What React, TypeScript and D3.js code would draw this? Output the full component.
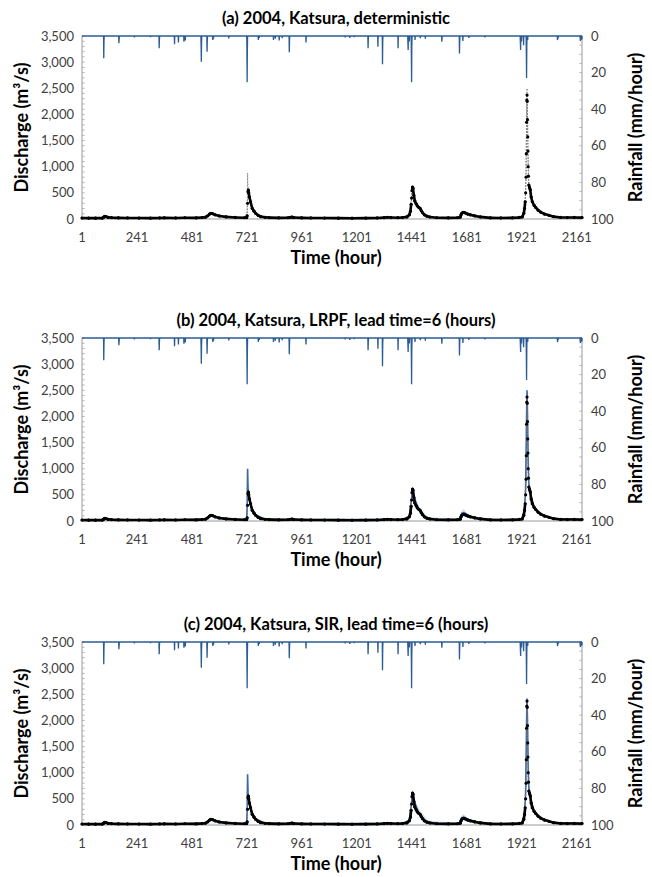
import React from 'react';
import * as d3 from 'd3';

// panel titles
const titles = [
  '(a) 2004, Katsura, deterministic',
  '(b) 2004, Katsura, LRPF, lead time=6 (hours)',
  '(c) 2004, Katsura, SIR, lead time=6 (hours)',
];

const xTicks = [1, 241, 481, 721, 961, 1201, 1441, 1681, 1921, 2161];
const qTicks = [0, 500, 1000, 1500, 2000, 2500, 3000, 3500];
const rTicks = [0, 20, 40, 60, 80, 100];

// hourly rainfall (mm/hour), hours not listed had no rain
const rain: [number, number][] = [
  [96, 12.2], [97, 3], [162, 4], [163, 2], [230, 0.8], [300, 0.6], [338, 6.7], [339, 2],
  [405, 4.5], [422, 3.5], [446, 3.1], [452, 2.5], [521, 5], [522, 14], [523, 4],
  [547, 8.6], [548, 3], [572, 2.2], [575, 1.5], [642, 1.3], [721, 6], [722, 25.3], [723, 8],
  [771, 2.2], [775, 1], [837, 2.2], [845, 1.5], [862, 2.5], [875, 1.2], [906, 8.9], [907, 3],
  [979, 3.5], [1150, 0.8], [1170, 1], [1190, 0.6], [1250, 6.7], [1251, 2], [1293, 5.8],
  [1313, 15.5], [1314, 3], [1381, 6.7], [1424, 4], [1425, 7.6], [1430, 3], [1439, 10],
  [1440, 25.3], [1441, 6], [1455, 2.2], [1478, 1.2], [1500, 1.5], [1572, 3.1], [1573, 1],
  [1649, 9.5], [1650, 3], [1664, 2.7], [1690, 1], [1760, 0.8], [1915, 4], [1916, 7.6],
  [1920, 3], [1929, 5], [1941, 10], [1942, 23], [1943, 6], [1947, 2.2], [2077, 2.2],
  [2078, 1.5], [2080, 1], [2176, 1.5], [2177, 2.7], [2183, 2],
];

// observed discharge (m3/s)
const observed: [number, number][] = [
  [1, 18], [30, 17], [60, 16], [90, 17], [95, 30], [100, 52], [106, 45], [115, 32], [130, 25],
  [160, 22], [200, 20], [250, 18], [300, 17], [340, 20], [360, 22], [410, 20], [450, 24],
  [500, 22], [525, 28], [540, 35], [550, 60], [558, 95], [564, 110], [572, 100], [582, 80],
  [600, 58], [630, 40], [670, 30], [710, 24], [720, 28], [722, 60], [724, 300], [726, 520],
  [727, 555], [729, 500], [732, 420], [737, 330], [744, 205], [752, 150], [759, 110],
  [770, 70], [781, 45], [800, 32], [818, 26], [860, 22], [900, 24], [910, 32], [918, 36],
  [926, 28], [960, 22], [1000, 20], [1060, 18], [1120, 16], [1180, 15], [1240, 17],
  [1290, 20], [1320, 26], [1335, 32], [1350, 28], [1380, 25], [1400, 28], [1420, 40],
  [1430, 80], [1435, 150], [1438, 280], [1440, 400], [1442, 540], [1444, 610], [1446, 590],
  [1450, 450], [1454, 345], [1460, 290], [1465, 250], [1471, 225], [1477, 205], [1482, 160],
  [1488, 120], [1496, 80], [1506, 55], [1520, 38], [1550, 24], [1600, 22], [1640, 24],
  [1652, 35], [1656, 80], [1660, 115], [1667, 128], [1675, 115], [1685, 95], [1696, 80],
  [1715, 60], [1740, 40], [1784, 22], [1830, 20], [1880, 22], [1910, 30], [1923, 40],
  [1930, 110], [1933, 200], [1936, 330], [1938, 500], [1940, 800], [1941, 1250],
  [1942, 1850], [1943, 2275], [1944, 2370], [1945, 2250], [1946, 1900], [1947, 1570],
  [1948, 1300], [1949, 1000], [1950, 820], [1952, 650], [1955, 600], [1958, 560],
  [1962, 420], [1967, 330], [1975, 260], [1982, 220], [1992, 170], [2004, 130], [2020, 95],
  [2040, 70], [2060, 45], [2091, 30], [2120, 28], [2150, 30], [2184, 27],
];

// simulated discharge: deterministic (a), LRPF mean (b), SIR mean (c)
const simA: [number, number][] = [
  [1, 18], [95, 25], [100, 50], [110, 40], [130, 25], [200, 20], [400, 20], [540, 35],
  [564, 105], [600, 55], [700, 25], [720, 30], [722, 200], [724, 880], [726, 560], [730, 450],
  [740, 250], [760, 110], [800, 35], [900, 25], [1400, 28], [1430, 80], [1440, 420],
  [1444, 620], [1450, 460], [1470, 230], [1500, 70], [1550, 25], [1650, 30], [1660, 115],
  [1668, 130], [1700, 75], [1780, 25], [1920, 30], [1933, 200], [1938, 600], [1942, 1900],
  [1944, 2500], [1946, 2000], [1949, 1100], [1952, 680], [1960, 500], [1975, 260],
  [2000, 140], [2060, 45], [2184, 27],
];
const simB: [number, number][] = [
  [1, 18], [95, 28], [100, 55], [110, 40], [130, 25], [200, 20], [400, 20], [540, 35],
  [564, 115], [600, 55], [700, 25], [720, 30], [722, 250], [724, 1000], [726, 620], [730, 470],
  [740, 260], [760, 115], [800, 35], [900, 25], [1400, 28], [1430, 85], [1440, 430],
  [1444, 625], [1450, 470], [1470, 235], [1500, 70], [1550, 25], [1650, 32], [1660, 150],
  [1668, 160], [1700, 80], [1780, 25], [1920, 30], [1933, 210], [1938, 650], [1942, 2000],
  [1944, 2500], [1946, 2050], [1949, 1150], [1952, 700], [1960, 510], [1975, 265],
  [2000, 140], [2060, 45], [2184, 27],
];
const simC: [number, number][] = [
  [1, 18], [95, 28], [100, 60], [110, 40], [130, 25], [200, 20], [400, 20], [540, 35],
  [564, 120], [600, 55], [700, 25], [720, 30], [722, 250], [724, 970], [726, 610], [730, 470],
  [740, 260], [760, 115], [800, 35], [900, 25], [1400, 28], [1430, 85], [1440, 430],
  [1444, 630], [1450, 480], [1470, 240], [1500, 75], [1550, 25], [1650, 32], [1660, 140],
  [1668, 150], [1700, 80], [1780, 25], [1920, 30], [1933, 210], [1938, 640], [1942, 1950],
  [1944, 2420], [1946, 2000], [1949, 1120], [1952, 690], [1960, 500], [1975, 265],
  [2000, 140], [2060, 45], [2184, 27],
];

// ensemble spread [hour, low, high] for (b) and (c)
const bandB: [number, number, number][] = [
  [1, 15, 22], [700, 18, 30], [720, 22, 45], [722, 60, 500], [724, 700, 1100], [726, 450, 700],
  [730, 380, 520], [740, 200, 300], [760, 95, 140], [800, 30, 45], [1420, 35, 55],
  [1435, 120, 200], [1444, 560, 660], [1455, 320, 400], [1480, 180, 240], [1510, 50, 80],
  [1640, 22, 35], [1658, 90, 180], [1667, 120, 230], [1685, 90, 130], [1720, 55, 70],
  [1800, 20, 30], [1920, 25, 40], [1935, 250, 400], [1944, 2300, 2550], [1948, 1100, 1500],
  [1955, 550, 700], [1975, 240, 290], [2010, 100, 130], [2060, 40, 55], [2184, 24, 30],
];
const bandC: [number, number, number][] = [
  [1, 15, 22], [700, 18, 30], [720, 22, 45], [722, 60, 520], [724, 650, 1100], [726, 450, 700],
  [730, 380, 530], [740, 200, 310], [760, 95, 145], [800, 30, 45], [1420, 35, 60],
  [1435, 120, 220], [1444, 560, 680], [1455, 320, 430], [1480, 180, 260], [1510, 50, 90],
  [1640, 22, 35], [1658, 90, 170], [1667, 120, 210], [1685, 90, 130], [1720, 55, 75],
  [1800, 20, 30], [1920, 25, 40], [1935, 250, 400], [1944, 2250, 2460], [1948, 1100, 1500],
  [1955, 550, 720], [1975, 240, 300], [2010, 100, 135], [2060, 40, 55], [2184, 24, 30],
];

const panelTops = [36, 338, 642];
const sims = [simA, simB, simC];
const bands = [null, bandB, bandC];

const W = 652;
const H = 877;
const left = 82;
const right = 582;
const ph = 183;
const font = 'Lato, "Open Sans", sans-serif';

const x = d3.scaleLinear().domain([1, 2184]).range([left, right]);

const rainMap = new Map(rain);
const rainHourly = d3.range(1, 2185).map((h) => [h, rainMap.get(h) ?? 0] as [number, number]);

const Panel = ({ idx }: { idx: number }) => {
  const top = panelTops[idx];
  const bottom = top + ph;
  const yQ = d3.scaleLinear().domain([0, 3500]).range([bottom, top]);
  const yR = d3.scaleLinear().domain([0, 100]).range([top, bottom]);

  const qLine = d3.line<[number, number]>().x((d) => x(d[0])).y((d) => yQ(d[1]));
  const rLine = d3.line<[number, number]>().x((d) => x(d[0])).y((d) => yR(d[1]));
  const band = bands[idx];
  const area = d3
    .area<[number, number, number]>()
    .x((d) => x(d[0]))
    .y0((d) => yQ(d[1]))
    .y1((d) => yQ(d[2]));

  const qMinor = d3.range(0, 3501, 100);
  const rMinor = d3.range(0, 101, 5);
  const midY = (top + bottom) / 2;

  // hourly dots merge into a thick line where the hydrograph is flat,
  // on steep limbs they separate and only the thin dotted connector shows
  const segs = d3.pairs(observed).map(([a, b]) => {
    const rate = Math.abs(yQ(b[1]) - yQ(a[1])) / (b[0] - a[0]);
    return { a, b, steep: rate > 2.6 };
  });

  return (
    <g>
      <text x={336} y={top - 12} textAnchor="middle" fontFamily={font} fontWeight="bold" fontSize={16.5} fill="#000">
        {titles[idx]}
      </text>

      {/* axes */}
      <line x1={left} x2={left} y1={top} y2={bottom} stroke="#9a9a9a" />
      <line x1={right} x2={right} y1={top} y2={bottom} stroke="#9a9a9a" />
      <line x1={left} x2={right} y1={bottom} y2={bottom} stroke="#9a9a9a" />
      {qMinor.map((v) => (
        <line key={'qm' + v} x1={left} x2={left + 2.5} y1={yQ(v)} y2={yQ(v)} stroke="#b0b0b0" />
      ))}
      {rMinor.map((v) => (
        <line key={'rm' + v} x1={right - 2.5} x2={right} y1={yR(v)} y2={yR(v)} stroke="#b0b0b0" />
      ))}
      {qTicks.map((v) => (
        <text key={'q' + v} x={left - 8} y={yQ(v)} dy="0.35em" textAnchor="end" fontFamily={font} fontSize={13} fill="#404040">
          {d3.format(',')(v)}
        </text>
      ))}
      {rTicks.map((v) => (
        <text key={'r' + v} x={right + 9} y={yR(v)} dy="0.35em" textAnchor="start" fontFamily={font} fontSize={13} fill="#404040">
          {v}
        </text>
      ))}
      {xTicks.map((v) => (
        <text key={'x' + v} x={x(v)} y={bottom + 23} textAnchor="middle" fontFamily={font} fontSize={13} fill="#404040">
          {v}
        </text>
      ))}

      <text x={336} y={bottom + 45} textAnchor="middle" fontFamily={font} fontWeight="bold" fontSize={18} fill="#000">
        Time (hour)
      </text>
      <text transform={`translate(22,${midY}) rotate(-90)`} textAnchor="middle" dy="0.35em" fontFamily={font} fontWeight="bold" fontSize={18} fill="#000">
        Discharge (m<tspan>³</tspan>/s)
      </text>
      <text transform={`translate(636,${midY}) rotate(-90)`} textAnchor="middle" dy="0.35em" fontFamily={font} fontWeight="bold" fontSize={18} fill="#000">
        Rainfall (mm/hour)
      </text>

      {/* ensemble spread and simulation */}
      {band && <path d={area(band) ?? ''} fill="#c5d8ef" opacity={0.85} />}
      {idx === 0 ? (
        <path d={qLine(sims[idx]) ?? ''} fill="none" stroke="#8a8a8a" strokeWidth={1} strokeDasharray="1.5,1.5" />
      ) : (
        <path d={qLine(sims[idx]) ?? ''} fill="none" stroke="#3c67a3" strokeWidth={1.6} />
      )}

      {/* observed */}
      {segs.map((s, i) => (
        <line
          key={'s' + i}
          x1={x(s.a[0])}
          y1={yQ(s.a[1])}
          x2={x(s.b[0])}
          y2={yQ(s.b[1])}
          stroke={s.steep ? '#777' : '#000'}
          strokeWidth={s.steep ? 1 : 2.6}
          strokeDasharray={s.steep ? '1.5,1.5' : undefined}
          strokeLinecap={s.steep ? 'butt' : 'round'}
        />
      ))}
      {observed.map((d, i) => (
        <circle key={'o' + i} cx={x(d[0])} cy={yQ(d[1])} r={1.6} fill="#000" />
      ))}

      {/* rainfall hanging from top */}
      <path d={rLine(rainHourly) ?? ''} fill="none" stroke="#2b5c93" strokeWidth={1.3} />
    </g>
  );
};

export default function App() {
  return (
    <svg width={W} height={H} style={{ position: 'absolute', left: 0, top: 0, background: '#fff' }}>
      <rect width={W} height={H} fill="#fff" />
      {[0, 1, 2].map((i) => (
        <Panel key={i} idx={i} />
      ))}
    </svg>
  );
}
